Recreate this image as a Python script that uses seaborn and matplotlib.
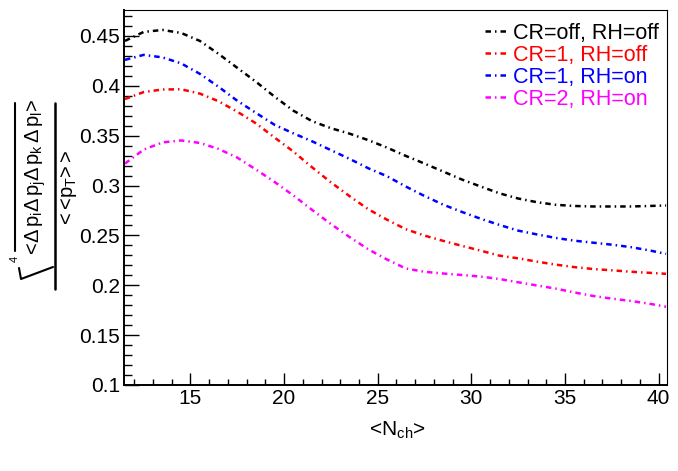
import numpy as np
import pandas as pd
import matplotlib
matplotlib.use("Agg")
import matplotlib.pyplot as plt
import seaborn as sns
from matplotlib.ticker import MultipleLocator
from matplotlib.lines import Line2D

# <N_ch> values where the curves were read
nch = [11.5, 12.5, 13.5, 14.5, 15.5, 16.5, 17.5, 18.5, 19.5, 20.5,
       21.5, 22.5, 23.5, 24.5, 25.5, 26.5, 27.5, 28.5, 29.5, 30.5,
       31.5, 32.5, 33.5, 34.5, 35.5, 36.5, 37.5, 38.5, 39.5, 40.4]

cr_off_rh_off = [0.445, 0.454, 0.456, 0.453, 0.445, 0.432, 0.418, 0.404, 0.389, 0.375,
                 0.3645, 0.3575, 0.352, 0.3455, 0.338, 0.3297, 0.322, 0.314, 0.306, 0.299,
                 0.2922, 0.287, 0.2833, 0.2807, 0.2795, 0.279, 0.279, 0.279, 0.2795, 0.280]
cr1_rh_off = [0.3867, 0.3937, 0.3963, 0.3965, 0.3922, 0.3845, 0.374, 0.3623, 0.348, 0.334,
              0.3182, 0.3032, 0.2893, 0.2762, 0.2657, 0.2562, 0.2498, 0.2445, 0.2395, 0.2347,
              0.2297, 0.227, 0.2237, 0.2207, 0.2182, 0.2163, 0.215, 0.2136, 0.2125, 0.2115]
cr1_rh_on = [0.426, 0.431, 0.4285, 0.4225, 0.412, 0.399, 0.385, 0.3728, 0.3608, 0.3523,
             0.3443, 0.3355, 0.3267, 0.3173, 0.3093, 0.299, 0.2895, 0.2808, 0.2735, 0.2667,
             0.2605, 0.2548, 0.251, 0.2475, 0.2447, 0.2427, 0.2407, 0.2383, 0.235, 0.2315]
cr2_rh_on = [0.322, 0.336, 0.3432, 0.3452, 0.3427, 0.3367, 0.328, 0.316, 0.3035, 0.290,
             0.2755, 0.2614, 0.2483, 0.236, 0.2258, 0.2168, 0.2135, 0.2118, 0.2103, 0.2087,
             0.2063, 0.203, 0.1998, 0.1967, 0.1928, 0.1893, 0.1866, 0.1843, 0.1815, 0.1785]

labels = ["CR=off, RH=off", "CR=1, RH=off", "CR=1, RH=on", "CR=2, RH=on"]
colors = ["black", "red", "blue", "magenta"]
series = [cr_off_rh_off, cr1_rh_off, cr1_rh_on, cr2_rh_on]

sns.set_style("ticks", {"axes.edgecolor": "black", "text.color": "black",
                        "xtick.color": "black", "ytick.color": "black",
                        "axes.labelcolor": "black"})
plt.rcParams["font.family"] = ["Liberation Sans", "DejaVu Sans"]
plt.rcParams["mathtext.fontset"] = "custom"
plt.rcParams["mathtext.rm"] = "Liberation Sans"
plt.rcParams["mathtext.it"] = "Liberation Sans"
plt.rcParams["mathtext.sf"] = "Liberation Sans"

W, H = 678, 471
fig = plt.figure(figsize=(W / 100, H / 100), dpi=100)
ax = fig.add_axes([124 / W, 86 / H, 543 / W, 375.5 / H])


def fpos(x, y):
    # pixel position from the top-left corner -> figure fraction
    return x / W, 1 - y / H


dash = [2.2, 1.6, 0.6, 1.6]
for vals, lab, col in zip(series, labels, colors):
    df = pd.DataFrame({"nch": nch, "val": vals})
    sns.lineplot(data=df, x="nch", y="val", color=col, label=lab, ax=ax,
                 linewidth=1.8)
for line in ax.get_lines():
    line.set_dashes(dash)

ax.set_xlim(11.45, 40.45)
ax.set_ylim(0.1, 0.4765)
ax.xaxis.set_major_locator(MultipleLocator(5))
ax.xaxis.set_minor_locator(MultipleLocator(1))
ax.yaxis.set_minor_locator(MultipleLocator(0.01))
ax.set_yticks([0.1, 0.15, 0.2, 0.25, 0.3, 0.35, 0.4, 0.45])
ax.set_yticklabels(["0.1", "0.15", "0.2", "0.25", "0.3", "0.35", "0.4", "0.45"])

ax.tick_params(axis="both", which="major", direction="in", labelsize=15, pad=3)
ax.tick_params(axis="y", which="major", length=11, width=1)
ax.tick_params(axis="y", which="minor", direction="in", length=5.5, width=1)
ax.tick_params(axis="x", which="major", length=9, width=1)
ax.tick_params(axis="x", which="minor", direction="in", length=4.5, width=1)

for side in ["top", "right"]:
    ax.spines[side].set_linewidth(0.8)
for side in ["left", "bottom"]:
    ax.spines[side].set_linewidth(1.4)

ax.set_xlabel(r"$<\hspace{-0.2}N_{ch}\hspace{-0.2}>$", fontsize=15, labelpad=8)
ax.set_ylabel("")

# y title built ROOT-style: 4th root of a fraction, rotated
num = r"$<\hspace{-0.2}\Delta\,p_{i}\Delta\,p_{j}\Delta\,p_{k}\,\Delta\,p_{l}\hspace{-0.2}>$"
den = r"$<\hspace{-0.2}<\hspace{-0.2}p_{T}\hspace{-0.2}>\hspace{-0.2}>$"
fig.text(*fpos(36, 178), num, rotation=90, fontsize=14.5, ha="center", va="center")
fig.text(*fpos(69, 189), den, rotation=90, fontsize=14.5, ha="center", va="center")
fig.text(*fpos(15, 259), "4", rotation=90, fontsize=8, ha="center", va="center")
xs, ys = zip(fpos(55, 103), fpos(55, 289))
fig.add_artist(Line2D(xs, ys, color="black", linewidth=1.8))
xs, ys = zip(fpos(15, 103), fpos(15, 251))
fig.add_artist(Line2D(xs, ys, color="black", linewidth=1.5))
xs, ys = zip(fpos(19, 268), fpos(21, 279), fpos(53, 267))
fig.add_artist(Line2D(xs, ys, color="black", linewidth=1.5))

leg = ax.legend(loc="upper left", bbox_to_anchor=(485 / W, 1 - 23 / H),
                bbox_transform=fig.transFigure, frameon=False, fontsize=15.5,
                handlelength=1.05, handletextpad=0.25, labelspacing=0.04,
                borderpad=0, borderaxespad=0, labelcolor="linecolor")
for h in leg.get_lines():
    h.set_dashes(dash)

fig.savefig("out.png", dpi=100)
